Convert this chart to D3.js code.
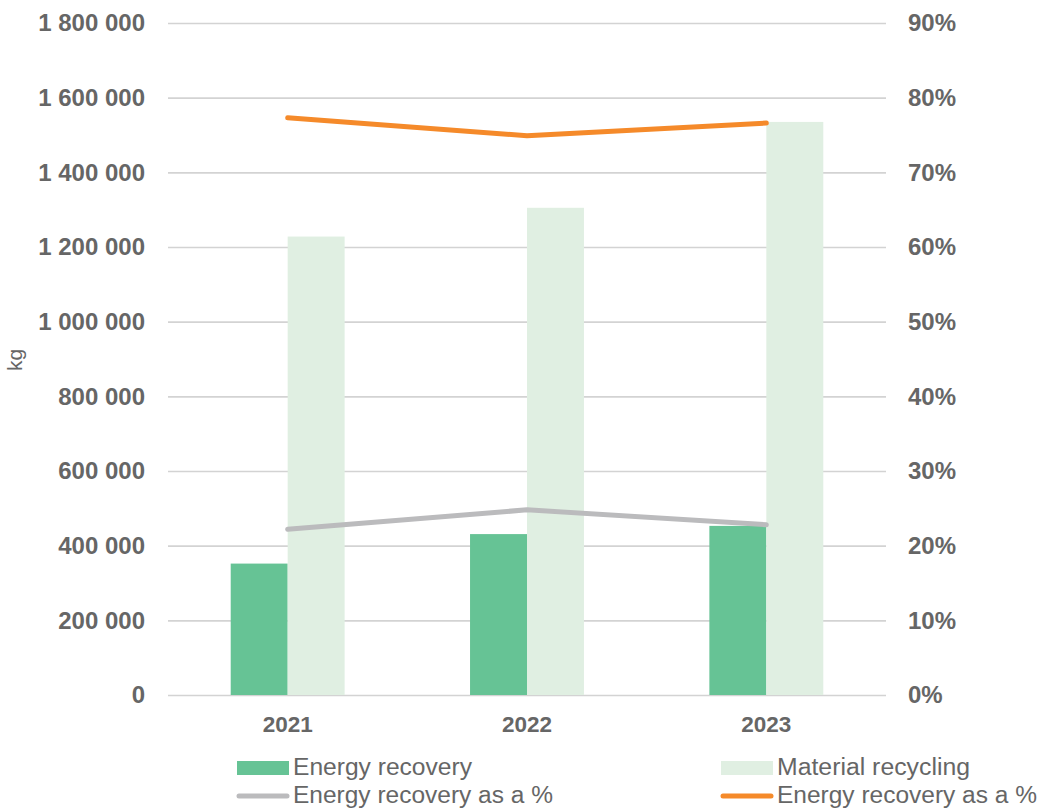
<!DOCTYPE html>
<html>
<head>
<meta charset="utf-8">
<script src="https://cdn.jsdelivr.net/npm/d3@7"></script>
<style>
  html, body { margin: 0; padding: 0; background: #fff; }
  svg { display: block; font-family: "Liberation Sans", Arial, sans-serif; }
</style>
</head>
<body>
<div class="canvas"></div>
<script>
// chart data
const years = ['2021', '2022', '2023']
const energyRecovery = [352000, 431000, 453000]
const materialRecycling = [1228000, 1305000, 1535000]
const energyShare = [22.2, 24.8, 22.8]
const energyShareOrange = [77.3, 74.9, 76.6]
const kgTicks = [0, 200000, 400000, 600000, 800000, 1000000, 1200000, 1400000, 1600000, 1800000]
const pctTicks = [0, 10, 20, 30, 40, 50, 60, 70, 80, 90]

const colors = {
  energy: '#66c395',
  material: '#e0efe2',
  grey: '#bbbbbd',
  orange: '#f58a2a',
  text: '#666666',
  grid: '#d3d3d3'
}

const margin = {top: 23, bottom: 114, left: 168, right: 157}
const width = 1043, height = 809
const graphWidth = width - margin.left - margin.right
const graphHeight = height - margin.top - margin.bottom

const svg = d3.select('.canvas')
  .append('svg')
  .attr('width', width)
  .attr('height', height)

const graph = svg.append('g')
  .attr('transform', `translate(${margin.left}, ${margin.top})`)

const x0 = d3.scaleBand()
  .domain(years)
  .range([0, graphWidth])
  .paddingInner(0.524)
  .paddingOuter(0.262)

const x1 = d3.scaleBand()
  .domain(['energy', 'material'])
  .range([0, x0.bandwidth()])

const y = d3.scaleLinear().domain([0, 1800000]).range([graphHeight, 0])
const yPct = d3.scaleLinear().domain([0, 90]).range([graphHeight, 0])

const fmtKg = v => d3.format(',')(v).replace(/,/g, ' ')

const styleLabels = size => g => g.selectAll('text')
  .attr('fill', colors.text)
  .attr('font-size', size)
  .attr('font-weight', 'bold')
  .attr('font-family', '"Liberation Sans", Arial, sans-serif')

// gridlines
graph.append('g')
  .call(d3.axisLeft(y).tickValues(kgTicks).tickSize(-graphWidth).tickFormat(''))
  .call(g => g.select('.domain').remove())
  .call(g => g.selectAll('line').attr('stroke', colors.grid).attr('stroke-width', 1.6))

// left axis labels
graph.append('g')
  .call(d3.axisLeft(y).tickValues(kgTicks).tickSize(0).tickPadding(23).tickFormat(fmtKg))
  .call(g => g.select('.domain').remove())
  .call(styleLabels(24))

// right axis labels
graph.append('g')
  .attr('transform', `translate(${graphWidth}, 0)`)
  .call(d3.axisRight(yPct).tickValues(pctTicks).tickSize(0).tickPadding(22).tickFormat(d => d + '%'))
  .call(g => g.select('.domain').remove())
  .call(styleLabels(24))

// x axis labels
graph.append('g')
  .attr('transform', `translate(0, ${graphHeight})`)
  .call(d3.axisBottom(x0).tickSize(0).tickPadding(21))
  .call(g => g.select('.domain').remove())
  .call(styleLabels(22.5))

// bars
const groups = graph.selectAll('g.year')
  .data(years)
  .enter().append('g')
  .attr('class', 'year')
  .attr('transform', d => `translate(${x0(d)}, 0)`)

groups.append('rect')
  .attr('x', x1('energy'))
  .attr('width', x1.bandwidth())
  .attr('y', (d, i) => y(energyRecovery[i]))
  .attr('height', (d, i) => graphHeight - y(energyRecovery[i]))
  .attr('fill', colors.energy)

groups.append('rect')
  .attr('x', x1('material'))
  .attr('width', x1.bandwidth())
  .attr('y', (d, i) => y(materialRecycling[i]))
  .attr('height', (d, i) => graphHeight - y(materialRecycling[i]))
  .attr('fill', colors.material)

// lines
const cx = d => x0(d) + x0.bandwidth() / 2
const drawLine = (values, color) => graph.append('path')
  .datum(years)
  .attr('fill', 'none')
  .attr('stroke', color)
  .attr('stroke-width', 5)
  .attr('stroke-linecap', 'round')
  .attr('stroke-linejoin', 'round')
  .attr('d', d3.line().x(cx).y((d, i) => yPct(values[i])))

drawLine(energyShare, colors.grey)
drawLine(energyShareOrange, colors.orange)

// y axis title
svg.append('text')
  .attr('transform', 'translate(22, 360) rotate(-90)')
  .attr('text-anchor', 'middle')
  .attr('fill', colors.text)
  .attr('font-size', 21)
  .text('kg')

// legend
const legend = [
  {label: 'Energy recovery', type: 'rect', color: colors.energy, x: 237, y: 768, w: 179},
  {label: 'Material recycling', type: 'rect', color: colors.material, x: 721, y: 768, w: 193},
  {label: 'Energy recovery as a %', type: 'line', color: colors.grey, x: 237, y: 796, w: 260},
  {label: 'Energy recovery as a %', type: 'line', color: colors.orange, x: 721, y: 796, w: 260}
]

const items = svg.selectAll('g.legend')
  .data(legend)
  .enter().append('g')
  .attr('class', 'legend')
  .attr('transform', d => `translate(${d.x}, ${d.y})`)

items.filter(d => d.type === 'rect').append('rect')
  .attr('x', 0).attr('y', -7).attr('width', 52).attr('height', 14)
  .attr('fill', d => d.color)

items.filter(d => d.type === 'line').append('line')
  .attr('x1', 2).attr('x2', 50).attr('y1', 0).attr('y2', 0)
  .attr('stroke', d => d.color)
  .attr('stroke-width', 5)
  .attr('stroke-linecap', 'round')

items.append('text')
  .attr('x', 56)
  .attr('y', 7)
  .attr('fill', colors.text)
  .attr('font-size', 23)
  .attr('textLength', d => d.w)
  .attr('lengthAdjust', 'spacingAndGlyphs')
  .text(d => d.label)
</script>
</body>
</html>
